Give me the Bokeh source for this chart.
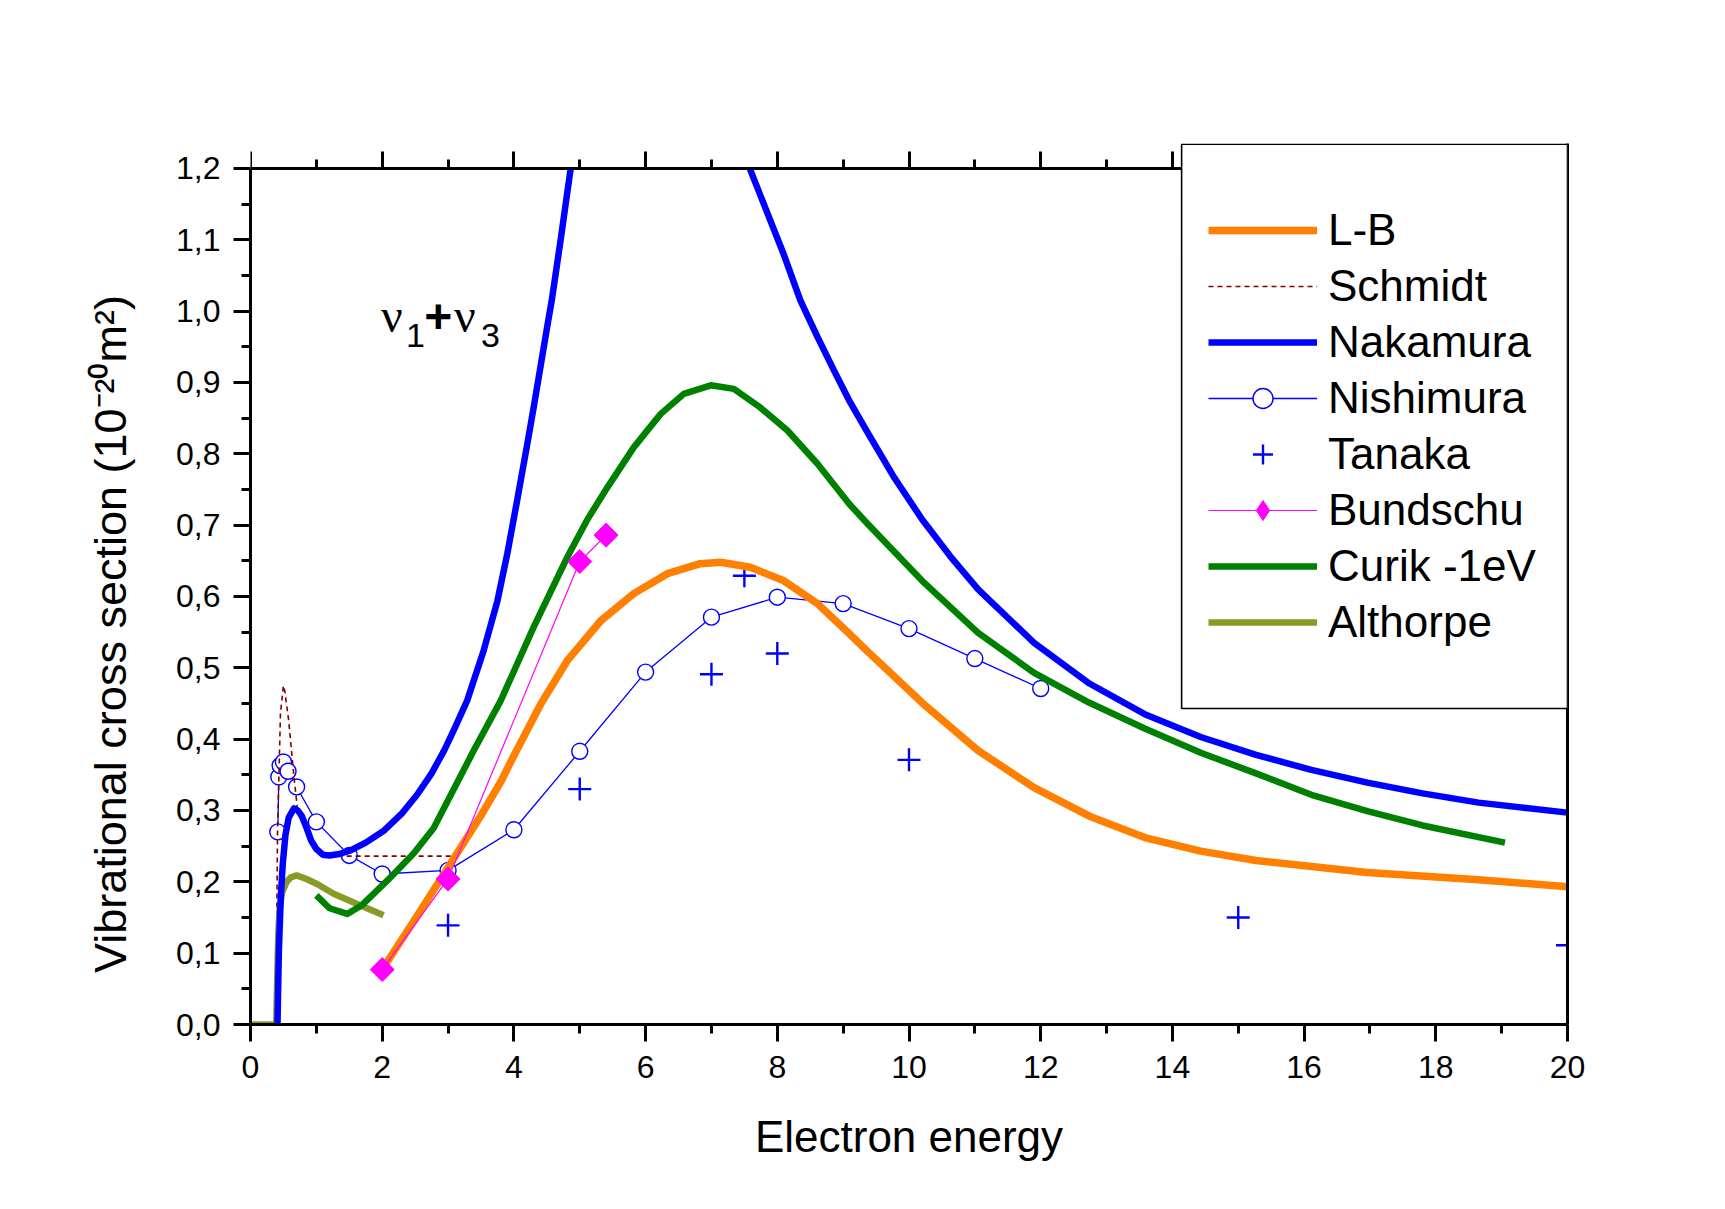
import numpy as np
from bokeh.plotting import figure
from bokeh.models import (Range1d, LinearAxis, FixedTicker, CustomJSTickFormatter,
                          Legend, LegendItem, BoxAnnotation, Label)
from bokeh.embed import file_html
from bokeh.resources import INLINE

FONT = "Liberation Sans"

# ---------------- data ----------------
x_ticks = [0, 2, 4, 6, 8, 10, 12, 14, 16, 18, 20]
x_minor = [1, 3, 5, 7, 9, 11, 13, 15, 17, 19]
y_ticks = [0.0, 0.1, 0.2, 0.3, 0.4, 0.5, 0.6, 0.7, 0.8, 0.9, 1.0, 1.1, 1.2]
y_minor = [0.05, 0.15, 0.25, 0.35, 0.45, 0.55, 0.65, 0.75, 0.85, 0.95, 1.05, 1.15]

lb_x = [2.0, 2.5, 3.0, 3.5, 3.8, 4.0, 4.4, 4.81, 5.32, 5.82, 6.33, 6.83, 7.14, 7.59, 8.10,
        8.61, 9.09, 9.37, 10.2, 11.05, 11.9, 12.74, 13.58, 14.43, 15.27, 16.96, 18.65, 20.0]
lb_y = [0.077, 0.148, 0.220, 0.293, 0.340, 0.377, 0.448, 0.510, 0.566, 0.604, 0.632, 0.646,
        0.648, 0.641, 0.622, 0.590, 0.548, 0.523, 0.451, 0.384, 0.332, 0.292, 0.262, 0.243,
        0.230, 0.213, 0.203, 0.193]

schmidt_x = [0.39, 0.395, 0.41, 0.455, 0.50, 0.52, 0.58, 0.66, 0.71, 0.85, 1.0, 1.14, 3.05]
schmidt_y = [0.0, 0.094, 0.268, 0.436, 0.475, 0.468, 0.426, 0.347, 0.305, 0.27, 0.248, 0.236, 0.236]

# Nakamura: rising branch up to where it leaves the axis box, falling branch from where it returns
naka1_x = [0.41, 0.43, 0.46, 0.49, 0.53, 0.58, 0.66, 0.72, 0.78, 0.85, 0.92, 1.0, 1.1, 1.2,
           1.35, 1.52, 1.75, 2.03, 2.3, 2.53, 2.75, 2.94, 3.1, 3.29, 3.54, 3.75, 3.9, 4.05,
           4.2, 4.3, 4.4, 4.5, 4.58, 4.71, 4.87]
naka1_y = [0.0, 0.1, 0.18, 0.225, 0.265, 0.29, 0.303, 0.300, 0.292, 0.276, 0.258, 0.246,
           0.238, 0.237, 0.239, 0.244, 0.255, 0.272, 0.296, 0.322, 0.352, 0.384, 0.415, 0.454,
           0.524, 0.594, 0.660, 0.735, 0.812, 0.865, 0.920, 0.975, 1.018, 1.10, 1.205]
naka2_x = [7.56, 8.1, 8.35, 8.61, 8.86, 9.09, 9.37, 9.78, 10.2, 10.63, 11.05, 11.9, 12.74,
           13.58, 14.43, 15.27, 16.11, 16.96, 17.8, 18.65, 20.0]
naka2_y = [1.205, 1.079, 1.015, 0.964, 0.917, 0.875, 0.830, 0.766, 0.708, 0.656, 0.610, 0.535,
           0.478, 0.435, 0.403, 0.378, 0.357, 0.339, 0.324, 0.311, 0.297]

nish_x = [0.415, 0.43, 0.45, 0.50, 0.57, 0.70, 1.0, 1.5, 2.0, 3.0, 4.0, 5.0, 6.0, 7.0, 8.0,
          9.0, 10.0, 11.0, 12.0]
nish_y = [0.270, 0.347, 0.363, 0.368, 0.355, 0.333, 0.284, 0.237, 0.211, 0.216, 0.273, 0.383,
          0.494, 0.571, 0.599, 0.590, 0.555, 0.513, 0.471]

tanaka_x = [3, 5, 7, 7.5, 8, 10, 15, 20]
tanaka_y = [0.139, 0.330, 0.491, 0.629, 0.520, 0.371, 0.150, 0.111]

bund_x = [2.0, 3.0, 5.0, 5.4]
bund_y = [0.077, 0.204, 0.649, 0.686]

curik_x = [1.0, 1.2, 1.47, 1.7, 2.08, 2.48, 2.78, 3.39, 3.8, 4.3, 4.81, 5.11, 5.42, 5.82,
           6.23, 6.58, 6.99, 7.34, 7.74, 8.15, 8.61, 9.09, 9.37, 10.2, 11.05, 11.9, 12.74,
           13.58, 14.43, 15.27, 16.11, 16.96, 17.8, 19.05]
curik_y = [0.181, 0.163, 0.155, 0.168, 0.202, 0.240, 0.275, 0.384, 0.454, 0.557, 0.655, 0.707,
           0.753, 0.809, 0.856, 0.884, 0.896, 0.891, 0.865, 0.833, 0.786, 0.730, 0.702, 0.622,
           0.549, 0.493, 0.451, 0.415, 0.381, 0.352, 0.322, 0.299, 0.279, 0.255]

alth_x = [0.0, 0.39, 0.405, 0.42, 0.44, 0.48, 0.55, 0.61, 0.70, 0.85, 1.01, 1.27, 1.62, 2.02]
alth_y = [0.0, 0.0, 0.06, 0.12, 0.16, 0.185, 0.200, 0.206, 0.209, 0.204, 0.197, 0.183, 0.169, 0.153]

legend_labels = ["L-B", "Schmidt", "Nakamura", "Nishimura", "Tanaka", "Bundschu",
                 "Curik -1eV", "Althorpe"]

# ---------------- layout constants ----------------
X0, X1 = 0.0, 20.0
Y0, YMAX = 0.0, 1.2          # the axis box
Y_TOP = 1.235                # frame top (room for the legend box above the axis)
LEG_LEFT, LEG_BOTTOM = 14.14, 0.443
NBSP = "\u00a0"

p = figure(width=1709, height=1193, output_backend="svg", toolbar_location=None,
           x_range=Range1d(X0, X1), y_range=Range1d(Y0, Y_TOP),
           min_border_left=250, min_border_right=142, min_border_top=143,
           min_border_bottom=169, background_fill_color="white", border_fill_color="white")
p.grid.visible = False
p.outline_line_color = None


def style_axis(ax):
    ax.axis_line_width = 3
    ax.axis_line_color = "black"
    ax.major_tick_line_width = 3
    ax.minor_tick_line_width = 3
    ax.major_tick_line_color = "black"
    ax.minor_tick_line_color = "black"
    ax.major_tick_out = 17
    ax.major_tick_in = 0
    ax.minor_tick_out = 9
    ax.minor_tick_in = 0
    ax.major_label_text_font = FONT
    ax.major_label_text_font_size = "32px"
    ax.major_label_text_color = "black"


xa = p.xaxis[0]
xa.ticker = FixedTicker(ticks=x_ticks, minor_ticks=x_minor)
style_axis(xa)
xa.major_label_standoff = 14
xa.axis_label = "Electron energy"
xa.axis_label_text_font = FONT
xa.axis_label_text_font_size = "44px"
xa.axis_label_text_font_style = "normal"
xa.axis_label_text_color = "black"
xa.axis_label_standoff = 31

ya = p.yaxis[0]
ya.ticker = FixedTicker(ticks=y_ticks, minor_ticks=y_minor)
ya.bounds = (Y0, YMAX)
style_axis(ya)
ya.major_label_standoff = 13
ya.formatter = CustomJSTickFormatter(code="return tick.toFixed(1).replace('.', ',');")

# y title on its own tick-less axis (trailing no-break spaces push it down like the reference)
yt = LinearAxis(ticker=FixedTicker(ticks=[]), axis_line_color=None,
                major_tick_line_color=None, minor_tick_line_color=None,
                axis_label="Vibrational cross section (10\u207b\u00b2\u2070m\u00b2)" + NBSP * 8,
                axis_label_text_font=FONT, axis_label_text_font_size="45px",
                axis_label_text_font_style="normal", axis_label_text_color="black",
                axis_label_standoff=38)
p.add_layout(yt, "left")

# top axis sitting on y = 1.2 (ticks only)
top = LinearAxis(ticker=FixedTicker(ticks=x_ticks, minor_ticks=x_minor), fixed_location=YMAX,
                 formatter=CustomJSTickFormatter(code="return '';"))
style_axis(top)
p.add_layout(top, "above")

# right axis line
right = LinearAxis(ticker=FixedTicker(ticks=[]), formatter=CustomJSTickFormatter(code="return '';"))
style_axis(right)
right.major_tick_out = 0
right.minor_tick_out = 0
p.add_layout(right, "right")

# ---------------- series ----------------
r_nish_line = p.line(nish_x, nish_y, line_color="#0000FF", line_width=1.3)
r_nish_pts = p.scatter(nish_x, nish_y, marker="circle", size=16, line_color="#0000FF",
                       fill_color="white", line_width=1.4)
r_tanaka = p.scatter(tanaka_x, tanaka_y, marker="cross", size=23, line_color="#0000FF",
                     line_width=2.4)
r_schmidt = p.line(schmidt_x, schmidt_y, line_color="#800000", line_width=1.6,
                   line_dash="5 4")
r_alth = p.line(alth_x, alth_y, line_color="#879B26", line_width=6.5, line_join="round")
r_curik = p.line(curik_x, curik_y, line_color="#008000", line_width=6.5, line_join="round")
r_naka = p.line(naka1_x, naka1_y, line_color="#0000FF", line_width=6.5, line_join="round")
p.line(naka2_x, naka2_y, line_color="#0000FF", line_width=6.5, line_join="round")
r_lb = p.line(lb_x, lb_y, line_color="#FF8000", line_width=7.5, line_join="round")
r_bund_line = p.line(bund_x, bund_y, line_color="#FF00FF", line_width=1.2)
# diamond symbol used for the legend key (hidden under the rotated squares in the plot)
r_bund_key = p.scatter(bund_x, bund_y, marker="diamond", size=17, fill_color="#FF00FF",
                       line_color="#FF00FF")
r_bund_pts = p.scatter(bund_x, bund_y, marker="square", angle=np.pi / 4, size=17,
                       fill_color="#FF00FF", line_color="#FF00FF")

# white strip above the axis box
p.quad(left=[X0], right=[X1], bottom=[YMAX], top=[Y_TOP + 0.05], fill_color="white",
       line_color=None)

# ---------------- legend ----------------
box = BoxAnnotation(left=LEG_LEFT, right=X1, top=Y_TOP - 0.001, bottom=LEG_BOTTOM,
                    fill_color="white", fill_alpha=1.0, line_color="black", line_width=1.6,
                    line_alpha=1.0)
p.add_layout(box)

renders = [[r_lb], [r_schmidt], [r_naka], [r_nish_line, r_nish_pts], [r_tanaka],
           [r_bund_line, r_bund_key], [r_curik], [r_alth]]
items = [LegendItem(label=lab, renderers=rs) for lab, rs in zip(legend_labels, renders)]
legend = Legend(items=items, location=(958, 377), orientation="vertical",
                padding=0, margin=0, spacing=6, glyph_width=109, glyph_height=50,
                label_height=50, label_standoff=11, label_text_font=FONT,
                label_text_font_size="44px", label_text_color="black",
                border_line_alpha=0, background_fill_alpha=0)
p.add_layout(legend, "center")

# ---------------- nu1 + nu3 annotation ----------------
def add_label(text, x, y, font, size, style="normal"):
    p.add_layout(Label(x=x, y=y, text=text, text_font=font, text_font_size=size,
                       text_font_style=style, text_color="black", text_align="left",
                       text_baseline="alphabetic"))


add_label("ν", 1.98, 0.994, "Liberation Serif", "48px")
add_label("1", 2.36, 0.966, FONT, "34px")
add_label("+", 2.64, 0.993, FONT, "48px", "bold")
add_label("ν", 3.09, 0.994, "Liberation Serif", "48px")
add_label("3", 3.50, 0.966, FONT, "34px")

open("out.html", "w").write(file_html(p, INLINE))
